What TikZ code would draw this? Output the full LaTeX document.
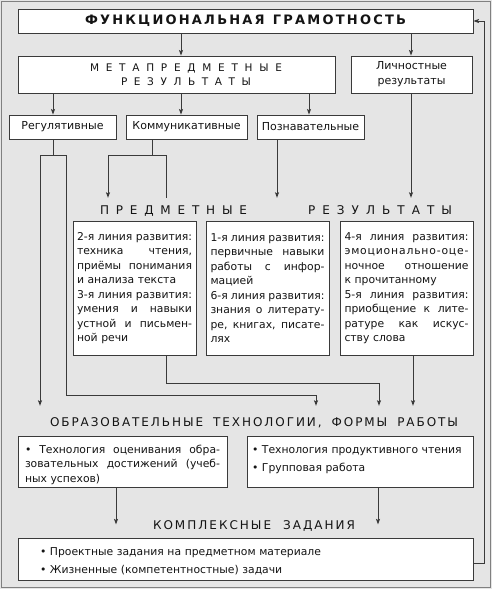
\documentclass[tikz,border=0pt]{standalone}
\usepackage{fontspec}
\setmainfont{DejaVu Sans}
\usetikzlibrary{arrows.meta,calc}
\definecolor{bgc}{HTML}{E5E5E5}
\definecolor{lnc}{HTML}{3A3A3A}
\definecolor{txc}{HTML}{141414}
\def\LS#1{\LSa#1\relax}
\def\LSa#1{#1\LSb}
\def\LSb#1{\ifx\relax#1\else\hfil#1\expandafter\LSb\fi}
\newcommand\JL[2]{\leavevmode\hbox to #1pt{\spaceskip=0pt\xspaceskip=0pt\relax #2}}
\pgfdeclarelayer{bgl}
\pgfsetlayers{bgl,main}
\begin{document}
\begin{tikzpicture}[x=1pt,y=-1pt,
  box/.style={draw=lnc, fill=white, line width=0.9pt, inner sep=0pt, text=txc},
  ln/.style={draw=lnc, line width=0.9pt},
  arr/.style={ln, -{Stealth[length=5.5pt,width=4pt,inset=1pt]}},
  head/.style={inner sep=0pt, text=txc},
  boxtext/.style={font=\fontsize{10.8}{14.5}\selectfont, align=left},
  lbl/.style={font=\fontsize{11}{15}\selectfont}]
\useasboundingbox (0,0) rectangle (492,589);
% boxes
\node[box, minimum width=455pt, minimum height=24pt, font=\fontsize{13}{14}\selectfont\bfseries] (top) at (245.5,21)
  {\hbox to 321pt{\LS{ФУНКЦИОНАЛЬНАЯ}\hfil\hskip6pt\LS{ГРАМОТНОСТЬ}}};
\node[box, minimum width=317pt, minimum height=37pt, align=center, font=\fontsize{10.5}{14}\selectfont] (meta) at (176.5,74.5)
  {\hspace*{19pt}\hbox to 192pt{\LS{МЕТАПРЕДМЕТНЫЕ}}\\\hspace*{19pt}\hbox to 130pt{\LS{РЕЗУЛЬТАТЫ}}};
\node[box, lbl, minimum width=121pt, minimum height=37pt, align=center] (lich) at (411.5,74.5) {Личностные\\результаты};
\node[box, lbl, minimum width=107pt, minimum height=24pt] (reg) at (62.5,127) {Регулятивные};
\node[box, lbl, minimum width=121pt, minimum height=24pt] (kom) at (186.5,127) {Коммуникативные};
\node[box, lbl, minimum width=107pt, minimum height=24pt] (poz) at (310.5,127) {Познавательные};
\node[head, fill=bgc, minimum height=26pt, font=\fontsize{12}{14}\selectfont] (pred) at (276,211)
  {\hbox to 147pt{\LS{ПРЕДМЕТНЫЕ}}\hspace{61pt}\hbox to 144pt{\LS{РЕЗУЛЬТАТЫ}}};
\node[box, boxtext, text width=115pt, inner xsep=4pt, minimum height=134pt] (ba) at (134.5,288)
  {\JL{115}{2-я линия развития:}\\\JL{115}{техника чтения,}\\\JL{115}{приёмы понимания}\\и анализа текста\\
   \JL{115}{3-я линия развития:}\\\JL{115}{умения и навыки}\\\JL{115}{устной и письмен-}\\ной речи};
\node[box, boxtext, text width=114pt, inner xsep=4.5pt, minimum height=134pt] (bb) at (267.5,288)
  {\JL{114}{1-я линия развития:}\\\JL{114}{первичные навыки}\\\JL{114}{работы с инфор-}\\мацией\\
   \JL{114}{6-я линия развития:}\\\JL{114}{знания о литерату-}\\\JL{114}{ре, книгах, писате-}\\лях};
\node[box, boxtext, text width=124pt, inner xsep=4.5pt, minimum height=134pt] (bc) at (406.5,288)
  {\JL{124}{4-я линия развития:}\\\JL{124}{\LS{эмоционально-оце-}}\\\JL{124}{ночное отношение}\\к прочитанному\\
   \JL{124}{5-я линия развития:}\\\JL{124}{приобщение к лите-}\\\JL{124}{ратуре как искус-}\\ству слова};
\node[head, minimum height=34pt, font=\fontsize{12}{14}\selectfont] (obr) at (254,423)
  {\hbox to 408pt{\LS{ОБРАЗОВАТЕЛЬНЫЕ}\hfil\hskip8pt\LS{ТЕХНОЛОГИИ,}\hfil\hskip8pt\LS{ФОРМЫ}\hfil\hskip8pt\LS{РАБОТЫ}}};
\node[box, boxtext, text width=195pt, inner xsep=7pt, minimum height=51pt] (bd) at (122.5,461.5)
  {\mbox{}\\[0pt]\JL{195}{• Технология оценивания обра-}\\\JL{195}{зовательных достижений (учеб-}\\ных успехов)};
\node[box, boxtext, text width=216pt, inner xsep=5pt, minimum height=51pt] (be) at (360,461.5)
  {• Технология продуктивного чтения\\[3.5pt]• Групповая работа\\[-9pt]\mbox{}};
\node[head, font=\fontsize{12}{14}\selectfont] (kompl) at (254,526)
  {\hbox to 202pt{\LS{КОМПЛЕКСНЫЕ}\hfil\hskip10pt\LS{ЗАДАНИЯ}}};
\node[box, boxtext, text width=411pt, inner xsep=22pt, minimum height=42pt] (bf) at (245.5,559)
  {\mbox{}\\[-3pt]• Проектные задания на предметном материале\\[3.5pt]• Жизненные (компетентностные) задачи};
% routing points
\coordinate (rj) at (53,155);
\coordinate (rl) at (40,155);
\coordinate (rr) at (66,155);
\coordinate (rt) at (316,395);
\coordinate (kj) at (152,155);
\coordinate (kl) at (108,155);
\coordinate (kr) at (166,155);
\coordinate (kt) at (379,383);
\begin{pgfonlayer}{bgl}
\fill[bgc] (0,0) rectangle (492,589);
\draw[gray, line width=1pt] (1.5,1.5) rectangle (490.5,587.5);
\draw[arr] ([xshift=4.5pt]meta.north |- top.south) -- ([xshift=4.5pt]meta.north);
\draw[arr] ([xshift=-0.5pt]lich.north |- top.south) -- ([xshift=-0.5pt]lich.north);
\draw[arr] ([xshift=-9.5pt]reg.north |- meta.south) -- ([xshift=-9.5pt]reg.north);
\draw[arr] ([xshift=-5.5pt]kom.north |- meta.south) -- ([xshift=-5.5pt]kom.north);
\draw[arr] ([xshift=-1.5pt]poz.north |- meta.south) -- ([xshift=-1.5pt]poz.north);
\draw[ln] (rj |- reg.south) -- (rj);
\draw[ln] (rl) -- (rr);
\draw[arr] (rl) -- (rl |- obr.north);
\draw[arr] (rr) |- (rt) -- (rt |- obr.north);
\draw[ln] (kj |- kom.south) -- (kj);
\draw[ln] (kl) -- (kr);
\draw[arr] (kl) -- (kl |- pred.north);
\draw[arr] (kr) |- (kt) -- (kt |- obr.north);
\draw[arr] ([xshift=-33.5pt]poz.south) -- ([xshift=-33.5pt]poz.south |- pred.north);
\draw[arr] ([xshift=-0.5pt]lich.south) -- ([xshift=-0.5pt]lich.south |- pred.north);
\draw[arr] ([xshift=6.5pt]bc.south) -- ([xshift=6.5pt]bc.south |- obr.north);
\draw[arr, shorten >=-4pt] ([xshift=-6.5pt]bd.south) -- ([xshift=-6.5pt]bd.south |- kompl.north);
\draw[arr, shorten >=-4pt] ([xshift=18pt]be.south) -- ([xshift=18pt]be.south |- kompl.north);
\draw[arr] ([yshift=-4pt]bf.east) -- ++(11,0) |- (top.east);
\end{pgfonlayer}
\end{tikzpicture}
\end{document}
